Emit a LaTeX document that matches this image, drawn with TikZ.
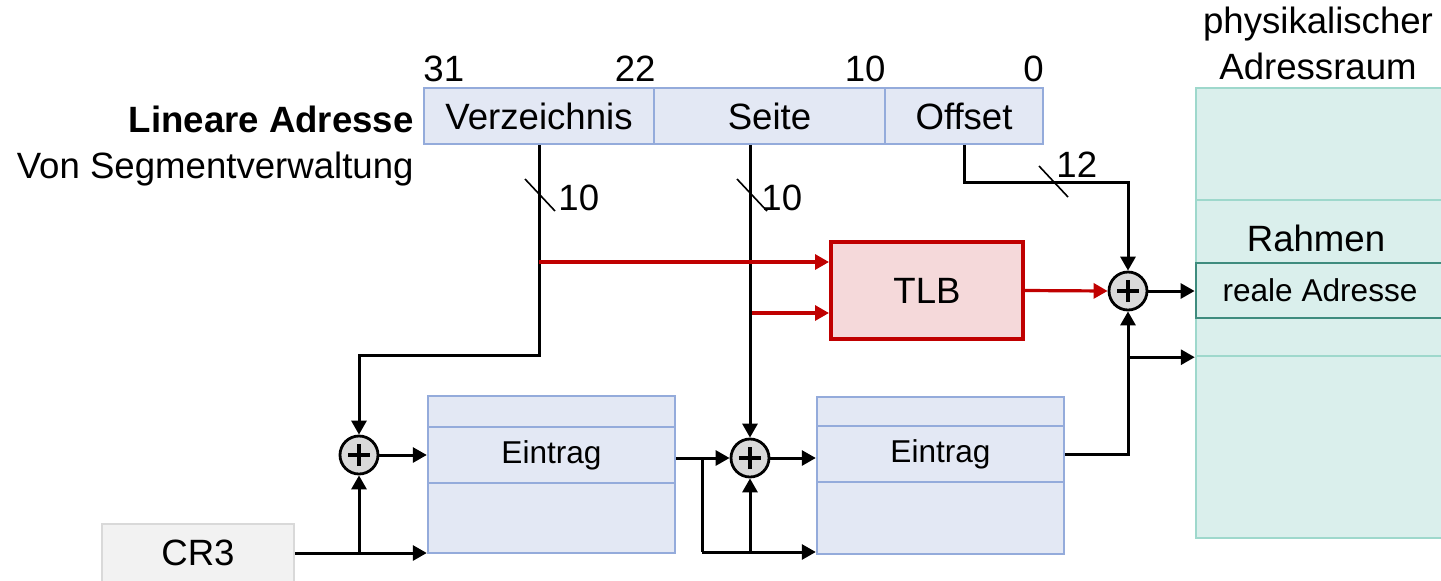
\documentclass[tikz,border=0pt]{standalone}
\usepackage{fontspec}
\setmainfont{Liberation Sans}
\usetikzlibrary{arrows.meta,calc}
\definecolor{boxfill}{HTML}{E3E8F4}
\definecolor{boxdraw}{HTML}{94ABDB}
\definecolor{memfill}{HTML}{DAEFEC}
\definecolor{memdraw}{HTML}{9ED8CC}
\definecolor{realdraw}{HTML}{3E8C7E}
\definecolor{tlbfill}{HTML}{F5D9DA}
\definecolor{tlbred}{HTML}{C00000}
\definecolor{addfill}{HTML}{D9D9D9}
\definecolor{crfill}{HTML}{F2F2F2}
\definecolor{crdraw}{HTML}{D9D9D9}
\newcommand{\bigsz}{\fontsize{18.3}{22}\selectfont}
\newcommand{\smallsz}{\fontsize{15.8}{19}\selectfont}
\tikzset{
  addrbox/.style={draw=boxdraw, fill=boxfill, line width=1.2pt, minimum height=28pt, inner sep=0pt, font=\bigsz},
  tblrow/.style={draw=boxdraw, fill=boxfill, line width=1.2pt, minimum width=123.5pt, inner sep=0pt, font=\smallsz},
  memslot/.style={draw=memdraw, fill=memfill, line width=1.2pt, minimum width=124pt, inner sep=0pt},
  adder/.style={circle, draw=black, fill=addfill, line width=1.4pt, minimum size=19pt, inner sep=0pt,
    path picture={\draw[line width=2.1pt] ($(path picture bounding box.center)+(-5.5pt,0)$) -- ++(11pt,0);
                  \draw[line width=2.1pt] ($(path picture bounding box.center)+(0,-5.5pt)$) -- ++(0,11pt);}},
  conn/.style={line width=1.5pt, black},
  arr/.style={conn, -{Triangle[length=7pt,width=7.5pt]}},
  redarr/.style={line width=1.6pt, tlbred, -{Triangle[length=7pt,width=7.5pt]}},
  slash/.style={line width=0.8pt, black},
  lbl/.style={font=\bigsz, inner sep=0pt},
}
\begin{document}
\begin{tikzpicture}[x=0.5pt, y=-0.5pt]
\useasboundingbox (0,0) rectangle (1441,580);

% physical memory
\node[memslot, minimum height=56pt]   (m1) at (1320,144)   {};
\node[memslot, minimum height=31.5pt] (m2) at (1320,231.5) {};
\node[memslot, minimum height=19pt]   (m4) at (1320,337)   {};
\node[memslot, minimum height=91pt]   (m5) at (1320,447)   {};
\node[memslot, draw=realdraw, line width=1.4pt, minimum height=27.5pt, font=\smallsz] (m3) at (1320,290.5) {\raisebox{-1.5pt}{reale Adresse}};
\node[lbl, anchor=base] (rahmen) at (1316,251) {Rahmen};
\node[lbl, anchor=base] (phys1) at (1318,33) {physikalischer};
\node[lbl, anchor=base] (phys2) at (1318,79) {Adressraum};

% linear address
\node[addrbox, minimum width=115pt]   (verz)   at (539,116)   {Verzeichnis};
\node[addrbox, minimum width=115.5pt] (seite)  at (769.5,116) {Seite};
\node[addrbox, minimum width=79pt]    (offset) at (964,116)   {Offset};
\node[lbl, anchor=base west] (b31) at (423,81) {31};
\node[lbl, anchor=base east] (b22) at (656,81) {22};
\node[lbl, anchor=base east] (b10) at (886,81) {10};
\node[lbl, anchor=base east] (b0)  at (1044,81) {0};
\node[lbl, anchor=base east, font=\bigsz\bfseries] (lin) at (414,132) {Lineare Adresse};
\node[lbl, anchor=base east] (von) at (414,178) {Von Segmentverwaltung};

% tables
\node[tblrow, minimum height=15.5pt] (t1a) at (551.5,411.5) {};
\node[tblrow, minimum height=28pt]   (t1b) at (551.5,455)   {Eintrag};
\node[tblrow, minimum height=35pt]   (t1c) at (551.5,518)   {};
\node[tblrow, minimum height=14.5pt] (t2a) at (940.5,411.5) {};
\node[tblrow, minimum height=28pt]   (t2b) at (940.5,454)   {Eintrag};
\node[tblrow, minimum height=36pt]   (t2c) at (940.5,518)   {};

% TLB
\node[draw=tlbred, fill=tlbfill, line width=2pt, minimum width=96pt, minimum height=48.5pt, font=\bigsz] (tlb) at (927,290.5) {TLB};

% CR3
\node[draw=crdraw, fill=crfill, line width=1.2pt, minimum width=96pt, minimum height=29pt, font=\bigsz] (cr3) at (198,553) {CR3};

% adders
\node[adder] (a1) at (359,455) {};
\node[adder] (a2) at (750,458) {};
\node[adder] (a3) at (1128,291) {};

% coordinates
\coordinate (v1) at (539,355);
\coordinate (b1) at (702,458);
\coordinate (b2) at (702,552);
\coordinate (oc) at (1128,182);
\coordinate (r1) at (539,262);
\coordinate (r2) at (752,313);

% connectors
\draw[arr] (verz.south) -- (v1) -| (a1.north);
\draw[arr] (cr3.east) -- (cr3.east -| t1c.west);
\draw[arr] (cr3.east -| a1) -- (a1.south);
\draw[arr] (a1.east) -- (a1.east -| t1b.west);
\draw[arr] (a2.west -| t1b.east) -- (a2.west);
\draw[conn] (b1) -- (b2);
\draw[arr] (b2) -- (b2 -| t2c.west);
\draw[arr] (b2 -| a2) -- (a2.south);
\draw[arr] (a2 |- seite.south) -- (a2.north);
\draw[arr] (a2.east) -- (a2.east -| t2b.west);
\draw[conn] (t2b.east) -| (a3 |- m4.south west);
\draw[arr] (a3 |- m4.south west) -- (a3.south);
\draw[arr] (a3 |- m4.south west) -- (m4.south west);
\draw[arr] (offset.south) |- (oc) -- (a3.north);
\draw[arr] (a3.east) -- (a3.east -| m3.west);
\draw[redarr] (r1) -- (r1 -| tlb.west);
\draw[redarr] (r2) -- (r2 -| tlb.west);
\draw[redarr] (tlb.east) -- (a3.west);

% bus-width slashes
\draw[slash] (525,179) -- (555,211);
\node[lbl, anchor=base west] (w1) at (558,210) {10};
\draw[slash] (737,179) -- (767,211);
\node[lbl, anchor=base west] (w2) at (761,210) {10};
\draw[slash] (1039,166) -- (1068,197);
\node[lbl, anchor=base west] (w3) at (1056,177) {12};
\end{tikzpicture}
\end{document}
